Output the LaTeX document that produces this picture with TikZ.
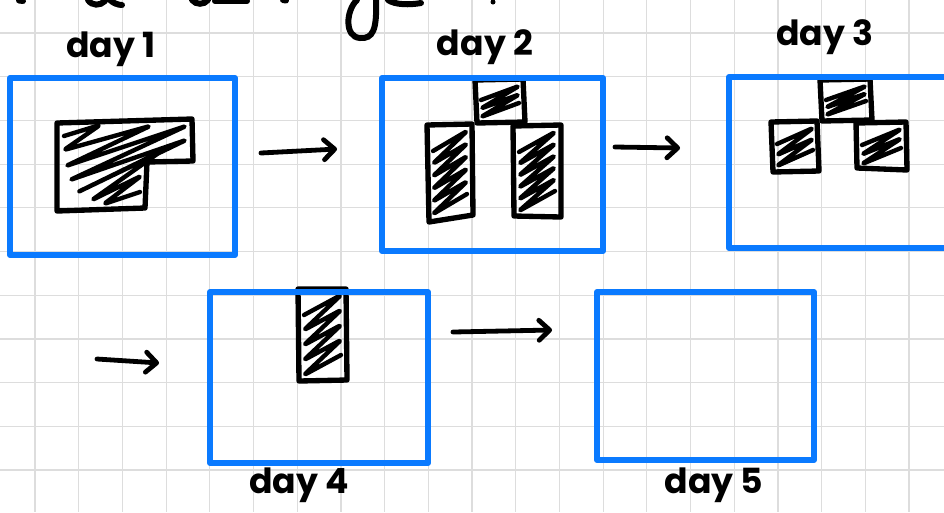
\documentclass[tikz,border=0pt]{standalone}
\usepackage{fontspec}
\setmainfont{Poppins}
\usetikzlibrary{arrows.meta,fit}
\definecolor{penblue}{HTML}{0A7AFF}
\definecolor{gridgray}{HTML}{DDDDDD}

% zig-zag scribble inside a block: x1,y1,x2,y2, number of strokes, rise of a stroke
\newcommand\scribble[6]{%
  \pgfmathsetmacro\sxl{#1+6}\pgfmathsetmacro\sxr{#3-6}%
  \pgfmathsetmacro\srise{#6}%
  \pgfmathsetmacro\sstep{(#4-#2-12-\srise)/(#5-1)}%
  \pgfmathtruncatemacro\slast{#5-1}%
  \draw[hatch] (\sxl,{#2+6+\srise})
    \foreach \k in {1,...,\slast} { -- (\sxr,{#2+6+(\k-1)*\sstep}) -- (\sxl,{#2+6+\srise+\k*\sstep}) }
    -- (\sxr,{#2+6+\slast*\sstep});
}

\begin{document}
\begin{tikzpicture}[x=0.75pt,y=-0.75pt,
  gridline/.style={gridgray, line width=0.9pt},
  dayframe/.style={draw=penblue, line width=4.4pt, line join=round, inner sep=0pt, rectangle},
  blockline/.style={black, line width=4pt, line join=round, line cap=round},
  hatch/.style={black, line width=3.3pt, line join=round, line cap=round, rounded corners=2pt},
  flow/.style={black, line width=3.6pt, line cap=round, -{Straight Barb[length=8pt,width=15pt,round]}},
  daylabel/.style={font=\fontsize{26}{26}\selectfont\bfseries, inner sep=0pt, anchor=base},
  ink/.style={black, line width=4.5pt, line cap=round}]

\useasboundingbox (0,0) rectangle (944,512);
\clip (0,0) rectangle (944,512);
\fill[white] (0,0) rectangle (944,512);

% squared paper
\foreach \i in {0,...,20} \draw[gridline] ({35+43.7*\i},0) -- ({35+43.7*\i},512);
\foreach \j in {0,...,10} \draw[gridline] (0,{33+43.7*\j}) -- (944,{33+43.7*\j});

% remains of the heading line above
\draw[ink] (19,0.5) -- (23,1);
\draw[ink] (88,0) .. controls (92,6) and (100,6) .. (105,1);
\draw[ink] (110,0) .. controls (113,3) and (118,5) .. (122,5);
\draw[ink] (192,0) .. controls (196,5) and (204,5) .. (208,0);
\draw[ink] (215,1) -- (247,1);
\draw[ink] (283,0) -- (286,0.5);
\draw[ink] (357,0) .. controls (346,10) and (344,37) .. (360,38) .. controls (373,39) and (377,30) .. (376,0);
\draw[ink] (388,0) .. controls (395,5) and (410,5) .. (421,3);
\fill (493,2) circle (2.5);

% day 1: L-shaped patch
\draw[blockline] (57,123) -- (192,119) -- (193,161) -- (147,162) -- (145,208) -- (57,211) -- cycle;
\draw[hatch] (64,136) -- (100,125) -- (64,150) -- (150,126) -- (66,166) -- (186,126)
  -- (70,180) -- (186,140) -- (78,192) -- (160,152)
  -- (92,200) -- (141,176) -- (104,204) -- (140,192);

% day 2: three bars
\draw[blockline] (475,80) -- (523,79) -- (525,122) -- (477,123) -- cycle;
\scribble{475}{80}{525}{123}{3}{14}
\draw[blockline] (427,125) -- (472,124) -- (473,215) -- (429,222) -- cycle;
\scribble{427}{125}{473}{220}{6}{20}
\draw[blockline] (513,126) -- (561,125) -- (561,217) -- (514,216) -- cycle;
\scribble{513}{126}{561}{217}{6}{20}

% day 3: three squares
\draw[blockline] (820,80) -- (870,79) -- (872,120) -- (822,121) -- cycle;
\scribble{820}{80}{872}{121}{3}{14}
\draw[blockline] (771,122) -- (817,121) -- (819,171) -- (773,172) -- cycle;
\scribble{771}{122}{819}{172}{3}{16}
\draw[blockline] (856,123) -- (906,122) -- (907,170) -- (857,168) -- cycle;
\scribble{856}{123}{907}{170}{3}{16}

% day 4: one bar
\draw[blockline] (298,289) -- (346,289) -- (347,380) -- (299,381) -- cycle;
\scribble{298}{289}{347}{381}{5}{20}

% frames for each day
\node[dayframe, fit={(10,78) (235,255)}] (d1) {};
\node[dayframe, fit={(382,78) (603,251)}] (d2) {};
\node[dayframe, fit={(729,77) (960,248)}] (d3) {};
\node[dayframe, fit={(210,292) (428,463)}] (d4) {};
\node[dayframe, fit={(597,292) (814,460)}] (d5) {};

% labels
\node[daylabel] (l1) at (111,57) {day 1};
\node[daylabel] (l2) at (485,55) {day 2};
\node[daylabel] (l3) at (825,45) {day 3};
\node[daylabel] (l4) at (299,493) {day 4};
\node[daylabel] (l5) at (714,493) {day 5};

% arrows between the days
\coordinate (rowstart) at (97,359);
\draw[flow] ([shift={(23,-13.5)}]d1.east) -- ([shift={(-42,-15.5)}]d2.west);
\draw[flow] ([shift={(9,-17.5)}]d2.east) -- ([shift={(-46,-14.5)}]d3.west);
\draw[flow] (rowstart) -- ([shift={(-48,-14.5)}]d4.west);
\draw[flow] ([shift={(22,-45.5)}]d4.east) -- ([shift={(-42,-46)}]d5.west);
\end{tikzpicture}
\end{document}
